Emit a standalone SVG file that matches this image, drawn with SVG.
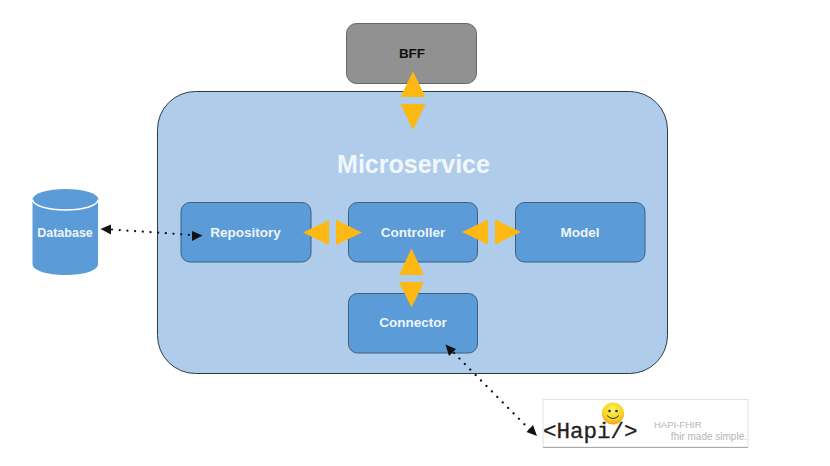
<svg xmlns="http://www.w3.org/2000/svg" width="830" height="466" viewBox="0 0 830 466">
<defs>
<radialGradient id="smile" cx="50%" cy="35%" r="65%"><stop offset="0" stop-color="#fff16a"/><stop offset="0.65" stop-color="#f8d51e"/><stop offset="1" stop-color="#eda415"/></radialGradient>
</defs>
<style>
text{font-family:"Liberation Sans",Arial,sans-serif;text-anchor:middle}
.box{fill:#5b9bd7;stroke:#3f5f80;stroke-width:1}
.lbl{fill:#eef5fb;font-size:13.5px;font-weight:700}
.tri{fill:#fdb813}
.dot{fill:none;stroke:#111;stroke-width:2.2;stroke-dasharray:0.1 7.6;stroke-linecap:round}
.head{fill:#111}
</style>
<rect width="830" height="466" fill="#fff"/>
<g id="microservice">
<rect x="157.500" y="91.500" width="510" height="282" rx="38" fill="#afcdeb" stroke="#2e3a48" stroke-width="1"/>
<text x="413.500" y="173" fill="#f2f7fc" font-size="25" style="font-weight:700">Microservice</text>
</g>
<g id="bff">
<rect x="346.500" y="23.500" width="130" height="60" rx="10" fill="#919191" stroke="#666"/>
<text x="412" y="58" fill="#111" font-size="13.500" style="font-weight:700">BFF</text>
</g>
<g id="repository"><rect class="box" x="181" y="202.500" width="130" height="59.500" rx="9"/><text class="lbl" x="245.500" y="237">Repository</text></g>
<g id="controller"><rect class="box" x="348.500" y="202.500" width="129" height="59.500" rx="9"/><text class="lbl" x="413" y="237">Controller</text></g>
<g id="model"><rect class="box" x="515.500" y="202.500" width="129.500" height="59.500" rx="9"/><text class="lbl" x="580" y="237">Model</text></g>
<g id="connector"><rect class="box" x="348.500" y="293.500" width="129" height="59.500" rx="9"/><text class="lbl" x="413" y="327">Connector</text></g>
<g id="database">
<path d="M32.500 199V264C32.500 270.500 47 275 65.500 275S98 270.500 98 264V199Z" fill="#5b9bd7"/>
<ellipse cx="65.500" cy="199.500" rx="33" ry="10.500" fill="#5b9bd7"/>
<path d="M32.500 199.500C33 205.500 47 210 65.500 210S98 205.500 98 199.500" fill="none" stroke="#fff" stroke-width="1.500"/>
<text class="lbl" x="65" y="237" style="font-size:12.500px">Database</text>
</g>
<g id="hapi">
<rect x="543" y="399.500" width="205" height="47.500" fill="#fff" stroke="#e2e2e2"/>
<path d="M543 447.500H748" stroke="#aaa" stroke-width="1"/>
<text x="543" y="438" font-size="22.500" fill="#222" stroke="#222" stroke-width="0.300" style="font-family:'Liberation Mono',monospace;text-anchor:start">&lt;Hapi/&gt;</text>
<circle cx="613" cy="413.500" r="11" fill="url(#smile)"/>
<circle cx="609.500" cy="411" r="1.300" fill="#333"/>
<circle cx="616.500" cy="411" r="1.300" fill="#333"/>
<path d="M607 415.500Q613 421.500 619 415.500" fill="none" stroke="#333" stroke-width="1"/>
<text x="654" y="428" font-size="9.500" fill="#b5b5b5" style="text-anchor:start">HAPI-FHIR</text>
<text x="747" y="439.500" font-size="10" fill="#b5b5b5" style="text-anchor:end">fhir made simple.</text>
</g>
<g id="connectors">
<path class="tri" d="M413 71.500L425.500 97H400.500Z"/>
<path class="tri" d="M413 130L400.500 104H425.500Z"/>
<path class="tri" d="M303 232.500L329 220V245Z"/>
<path class="tri" d="M362 232.500L336 220V245Z"/>
<path class="tri" d="M462 232L488 219.500V244.500Z"/>
<path class="tri" d="M521 232L495 219.500V244.500Z"/>
<path class="tri" d="M411.500 248.500L424 275H399Z"/>
<path class="tri" d="M411.500 307.500L399 282H424Z"/>
<path class="dot" d="M112 229.500L192 235"/>
<path class="head" d="M100.500 229L111 224.500V234.500Z"/>
<path class="head" d="M202.500 235.500L192 231V241Z"/>
<path class="dot" d="M454 353L530 430"/>
<path class="head" d="M445.500 344.500L456 349L449 356Z"/>
<path class="head" d="M537 436L526.500 432L533 425Z"/>
</g>
</svg>
